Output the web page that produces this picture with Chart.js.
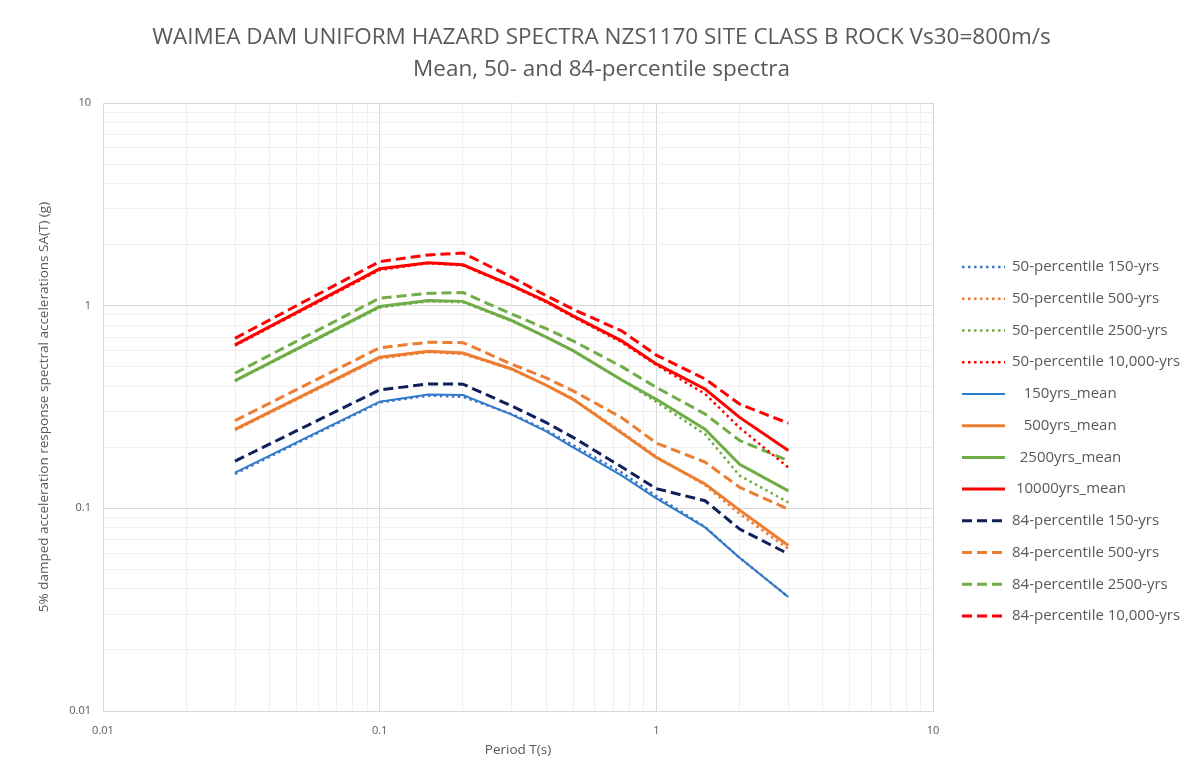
<!DOCTYPE html>
<html>
<head>
<meta charset="utf-8">
<script src="https://cdn.jsdelivr.net/npm/chart.js@4.4.1/dist/chart.umd.min.js"></script>
<style>
  html, body { margin: 0; padding: 0; background: #fff; }
  #wrap { width: 1203px; height: 782px; position: relative; }
</style>
</head>
<body>
<div id="wrap"><canvas id="uhsChart"></canvas></div>
<script>
// Periods T(s) and spectral accelerations SA(T) in g
const periods = [0.03, 0.1, 0.15, 0.2, 0.3, 0.4, 0.5, 0.75, 1, 1.5, 2, 3];

const p50_150 = [0.148, 0.333, 0.360, 0.355, 0.292, 0.243, 0.205, 0.150, 0.115, 0.081, 0.057, 0.0365];
const p50_500 = [0.243, 0.550, 0.590, 0.578, 0.485, 0.405, 0.347, 0.238, 0.180, 0.130, 0.094, 0.063];
const p50_2500 = [0.424, 0.980, 1.050, 1.040, 0.840, 0.700, 0.600, 0.430, 0.335, 0.232, 0.145, 0.107];
const p50_10000 = [0.635, 1.500, 1.620, 1.580, 1.250, 1.040, 0.880, 0.660, 0.510, 0.367, 0.250, 0.159];

const mean150 = [0.150, 0.336, 0.364, 0.362, 0.290, 0.240, 0.200, 0.145, 0.112, 0.0805, 0.057, 0.0365];
const mean500 = [0.245, 0.556, 0.595, 0.584, 0.487, 0.405, 0.345, 0.235, 0.178, 0.132, 0.098, 0.0655];
const mean2500 = [0.427, 0.990, 1.060, 1.050, 0.845, 0.700, 0.600, 0.430, 0.345, 0.246, 0.165, 0.122];
const mean10000 = [0.640, 1.520, 1.630, 1.590, 1.260, 1.050, 0.890, 0.670, 0.516, 0.388, 0.281, 0.193];

const p84_150 = [0.171, 0.384, 0.411, 0.410, 0.320, 0.265, 0.224, 0.160, 0.125, 0.109, 0.079, 0.0596];
const p84_500 = [0.271, 0.620, 0.660, 0.657, 0.515, 0.440, 0.380, 0.280, 0.210, 0.169, 0.127, 0.099];
const p84_2500 = [0.464, 1.090, 1.150, 1.160, 0.910, 0.770, 0.670, 0.500, 0.395, 0.292, 0.216, 0.172];
const p84_10000 = [0.690, 1.650, 1.780, 1.820, 1.380, 1.120, 0.960, 0.750, 0.570, 0.435, 0.327, 0.263];

const decadeLabels = ["0.01", "0.1", "1", "10"];

const titleLines = [
    "WAIMEA DAM UNIFORM HAZARD SPECTRA NZS1170 SITE CLASS B ROCK Vs30=800m/s",
    "Mean, 50- and 84-percentile spectra"
];

const DOTTED = [2.5, 3.5];
const DASHED = [10, 5];

function series(label, values, color, width, dash) {
    return {
        label: label,
        data: periods.map((t, i) => ({ x: t, y: values[i] })),
        borderColor: color,
        backgroundColor: color,
        borderWidth: width,
        borderDash: dash,
        pointRadius: 0,
        pointHoverRadius: 0,
        tension: 0,
        fill: false
    };
}

const datasets = [
    series("50-percentile 150-yrs", p50_150, "#4472c4", 2.5, DOTTED),
    series("50-percentile 500-yrs", p50_500, "#ed7d31", 2.5, DOTTED),
    series("50-percentile 2500-yrs", p50_2500, "#70ad47", 2.5, DOTTED),
    series("50-percentile 10,000-yrs", p50_10000, "#ff0000", 2.5, DOTTED),
    series("   150yrs_mean", mean150, "#2a7ccc", 2, []),
    series("   500yrs_mean", mean500, "#ed7d31", 3, []),
    series("  2500yrs_mean", mean2500, "#70ad47", 3, []),
    series(" 10000yrs_mean", mean10000, "#ff0000", 3, []),
    series("84-percentile 150-yrs", p84_150, "#0e1f5b", 3, DASHED),
    series("84-percentile 500-yrs", p84_500, "#ed7d31", 3, DASHED),
    series("84-percentile 2500-yrs", p84_2500, "#70ad47", 3, DASHED),
    series("84-percentile 10,000-yrs", p84_10000, "#ff0000", 3, DASHED)
];

// log grid: 1..9 in each decade from 0.01 to 10
const gridValues = [];
[0.01, 0.1, 1].forEach(d => {
    for (let k = 1; k <= 9; k++) gridValues.push(+(d * k).toPrecision(3));
});
gridValues.push(10);

function isDecade(v) {
    const l = Math.log10(v);
    return Math.abs(l - Math.round(l)) < 1e-9;
}
function decadeLabel(v) {
    const idx = Math.round(Math.log10(v)) + 2;
    return isDecade(v) ? decadeLabels[idx] : "";
}

const gray = "#595959";
const fontFam = "'Open Sans', 'Liberation Sans', sans-serif";

const logAxis = (titleText, titlePad, fitFn) => ({
    type: "logarithmic",
    min: 0.01,
    max: 10,
    afterBuildTicks: (scale) => {
        scale.ticks = gridValues.map(v => ({ value: v }));
    },
    afterFit: fitFn,
    ticks: {
        autoSkip: false,
        maxRotation: 0,
        color: gray,
        font: { family: fontFam, size: 11 },
        callback: (v) => decadeLabel(v)
    },
    grid: {
        color: (c) => (c.tick && isDecade(c.tick.value)) ? "#d9d9d9" : "#efefef",
        lineWidth: 1,
        drawTicks: false
    },
    border: { color: "#d9d9d9" },
    title: {
        display: true,
        text: titleText,
        color: gray,
        font: { family: fontFam, size: 13.5 },
        padding: titlePad
    }
});

const xAxis = logAxis("Period T(s)", { top: 0, bottom: 24 }, (s) => { s.height = 71; });
xAxis.ticks.padding = 13;
const yAxis = logAxis("5% damped acceleration response spectral accelerations SA(T) (g)",
    { top: 36, bottom: 0 }, (s) => { s.width = 103; });
yAxis.ticks.padding = 12;

// empty axis on the right keeps room for the legend
const legendSpace = {
    type: "linear",
    position: "right",
    display: true,
    grid: { display: false, drawTicks: false },
    border: { display: false },
    ticks: { display: false },
    afterFit: (s) => { s.width = 270; }
};

// legend drawn in the right margin, styled from each dataset
const legendBox = {
    id: "legendBox",
    afterDraw(chart) {
        const c = chart.ctx;
        const x0 = 962, x1 = 1005, tx = 1012, y0 = 267, step = 31.73;
        c.save();
        c.font = "15px " + fontFam;
        c.textBaseline = "middle";
        c.fillStyle = gray;
        chart.data.datasets.forEach((ds, i) => {
            const y = y0 + i * step;
            c.beginPath();
            c.setLineDash(ds.borderDash || []);
            c.lineWidth = ds.borderWidth;
            c.strokeStyle = ds.borderColor;
            c.moveTo(x0, y);
            c.lineTo(x1, y);
            c.stroke();
            c.fillText(ds.label, tx, y);
        });
        c.restore();
    }
};

const ctx = document.getElementById("uhsChart").getContext("2d");
const uhsChart = new Chart(ctx, {
    type: "line",
    data: { datasets: datasets },
    options: {
        responsive: true,
        maintainAspectRatio: false,
        animation: false,
        layout: { padding: 0 },
        plugins: {
            title: {
                display: true,
                text: titleLines,
                color: gray,
                font: { family: fontFam, size: 22.5, weight: "normal", lineHeight: 32 / 22.5 },
                padding: { top: 22, bottom: 17 }
            },
            legend: { display: false },
            tooltip: { enabled: false }
        },
        scales: { x: xAxis, y: yAxis, legendSpace: legendSpace }
    },
    plugins: [legendBox]
});
</script>
</body>
</html>
